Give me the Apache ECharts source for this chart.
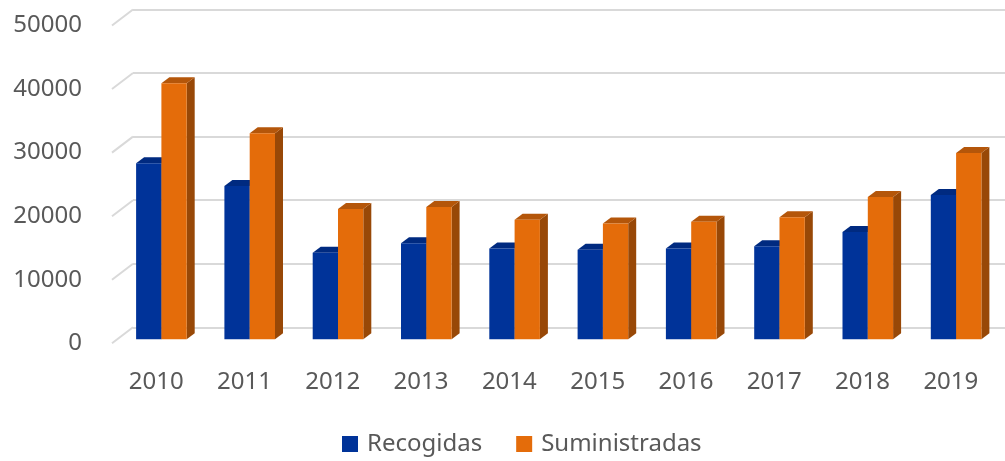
<html>
<head>
<meta charset="utf-8">
<script src="https://cdn.jsdelivr.net/npm/echarts@6/dist/echarts.min.js"></script>
</head>
<body style="margin:0">
<div id="main" style="width:1005px;height:461px"></div>
<script>
var years = ['2010', '2011', '2012', '2013', '2014', '2015', '2016', '2017', '2018', '2019'];
var recogidas = [27700, 24100, 13600, 15100, 14300, 14100, 14300, 14650, 16900, 22700];
var suministradas = [40300, 32400, 20500, 20800, 18800, 18200, 18500, 19200, 22400, 29300];
var yTicks = [0, 10000, 20000, 30000, 40000, 50000];

var myChart = echarts.init(document.getElementById('main'));
var font = '"Noto Sans", sans-serif';
var textColor = '#595959';

// depth of the floor (back wall -> front plane) and of a bar
var DX = 21, DY = 16;
var BAR_DX = 15.75, BAR_DY = 12;
var BOX_DX = 8, BOX_DY = 6;

function barRenderer(side, colors) {
    return function (params, api) {
        var i = api.value(0);
        var top = api.coord([i, api.value(1)]);
        var base = api.coord([i, 0]);
        var band = api.size([1, 0])[0];
        var bw = band * 0.2865;
        var cx = top[0] - BAR_DX;
        var x0 = side === 0 ? cx - bw : cx;
        var x1 = x0 + bw;
        var yt = top[1] + BAR_DY;
        var yb = base[1] + BAR_DY;
        return {
            type: 'group',
            children: [
                {
                    type: 'polygon',
                    shape: {points: [[x1, yt], [x1 + BOX_DX, yt - BOX_DY], [x1 + BOX_DX, yb - BOX_DY], [x1, yb]]},
                    style: {fill: colors[2]}
                },
                {
                    type: 'polygon',
                    shape: {points: [[x0, yt], [x1, yt], [x1 + BOX_DX, yt - BOX_DY], [x0 + BOX_DX, yt - BOX_DY]]},
                    style: {fill: colors[1]}
                },
                {
                    type: 'rect',
                    shape: {x: x0, y: yt, width: bw, height: yb - yt},
                    style: {fill: colors[0]}
                }
            ]
        };
    };
}

myChart.setOption({
    backgroundColor: '#fff',
    animation: false,
    legend: {
        left: 342,
        top: 432,
        padding: 0,
        icon: 'rect',
        itemWidth: 16,
        itemHeight: 16,
        itemGap: 34,
        textStyle: {fontFamily: font, fontSize: 24, color: textColor, padding: [0, 0, 0, 4]},
        data: ['Recogidas', 'Suministradas']
    },
    grid: [
        {left: 133, top: 9.5, width: 883, height: 317.8, outerBoundsMode: 'none'},
        {left: 112, top: 25.5, width: 883, height: 317.8, outerBoundsMode: 'none'}
    ],
    xAxis: [
        {
            type: 'category', gridIndex: 0, data: years,
            axisLine: {show: false}, axisTick: {show: false}, axisLabel: {show: false}
        },
        {
            type: 'category', gridIndex: 1, data: years,
            axisLine: {show: false}, axisTick: {show: false},
            axisLabel: {fontFamily: font, fontSize: 24, color: textColor, margin: 27}
        }
    ],
    yAxis: [
        {
            type: 'value', gridIndex: 0, min: 0, max: 50000, interval: 10000,
            axisLine: {show: false}, axisTick: {show: false}, axisLabel: {show: false},
            splitLine: {lineStyle: {color: '#d9d9d9', width: 2}}
        },
        {
            type: 'value', gridIndex: 1, min: 0, max: 50000, interval: 10000,
            axisLine: {show: false}, axisTick: {show: false}, splitLine: {show: false},
            axisLabel: {
                fontFamily: font, fontSize: 24, color: textColor, margin: 30,
                formatter: function (v) { return String(v); }
            }
        }
    ],
    series: [
        {
            type: 'custom',
            name: 'floor',
            xAxisIndex: 0, yAxisIndex: 0,
            silent: true,
            data: yTicks.map(function (v) { return [0, v]; }),
            renderItem: function (params, api) {
                var p = api.coord([0, api.value(1)]);
                var x = params.coordSys.x;
                return {
                    type: 'line',
                    shape: {x1: x - DX, y1: p[1] + DY, x2: x, y2: p[1]},
                    style: {stroke: '#d9d9d9', lineWidth: 2}
                };
            }
        },
        {
            type: 'custom',
            name: 'Recogidas',
            xAxisIndex: 0, yAxisIndex: 0,
            itemStyle: {color: '#003399'},
            data: recogidas.map(function (v, i) { return [i, v]; }),
            renderItem: barRenderer(0, ['#003399', '#002a80', '#00226a'])
        },
        {
            type: 'custom',
            name: 'Suministradas',
            xAxisIndex: 0, yAxisIndex: 0,
            itemStyle: {color: '#e46c0a'},
            data: suministradas.map(function (v, i) { return [i, v]; }),
            renderItem: barRenderer(1, ['#e46c0a', '#b4560a', '#984807'])
        }
    ]
});
</script>
</body>
</html>
